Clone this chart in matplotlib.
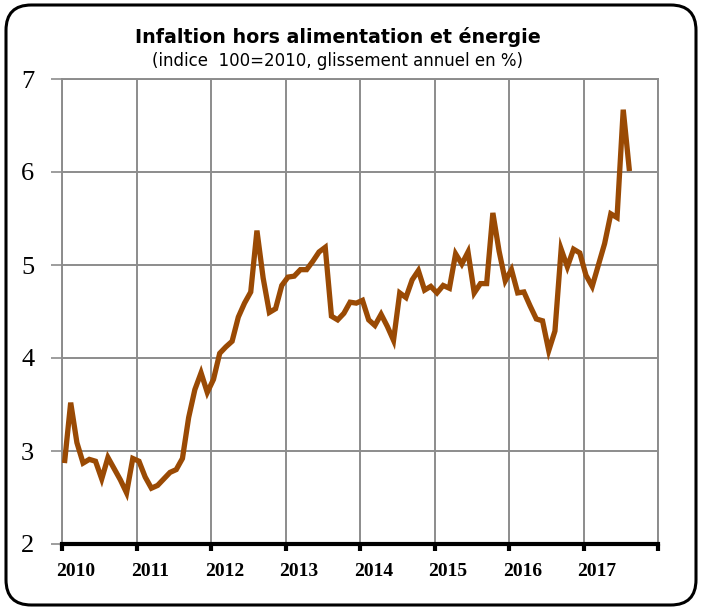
import numpy as np
import matplotlib
matplotlib.use("Agg")
import matplotlib.pyplot as plt
from matplotlib.patches import FancyBboxPatch

# glissement annuel mensuel, janvier 2010 -> aout 2017
inflation = [
    2.87, 3.52, 3.09, 2.87, 2.91, 2.89, 2.70, 2.93, 2.81, 2.69, 2.55, 2.92,
    2.89, 2.72, 2.60, 2.63, 2.70, 2.77, 2.80, 2.92, 3.36, 3.66, 3.84, 3.63,
    3.77, 4.05, 4.12, 4.18, 4.44, 4.59, 4.71, 5.37, 4.86, 4.49, 4.53, 4.78,
    4.87, 4.88, 4.95, 4.95, 5.04, 5.14, 5.19, 4.45, 4.41, 4.48, 4.60, 4.59,
    4.62, 4.41, 4.35, 4.47, 4.34, 4.19, 4.70, 4.65, 4.84, 4.94, 4.73, 4.77,
    4.70, 4.78, 4.75, 5.12, 5.01, 5.14, 4.70, 4.80, 4.80, 5.56, 5.15, 4.83,
    4.95, 4.70, 4.71, 4.56, 4.42, 4.40, 4.08, 4.29, 5.17, 4.98, 5.17, 5.13,
    4.89, 4.77, 5.00, 5.23, 5.55, 5.51, 6.67, 6.01,
]
start_year = 2010
years = list(range(2010, 2018))
yticks = [2, 3, 4, 5, 6, 7]

title = "Infaltion hors alimentation et énergie"
subtitle = "(indice  100=2010, glissement annuel en %)"

# points placed a little inside each month
dates = start_year + (np.arange(len(inflation)) + 0.4) / 12.0

fig = plt.figure(figsize=(7.02, 6.09), dpi=100)
ax = fig.add_axes([62 / 702, 1 - 544 / 609, 596 / 702, 465 / 609])

grid_col = "#8c8c8c"
ax.set_xlim(2010, 2018)
ax.set_ylim(2, 7)
ax.set_xticks(years + [2018])
ax.set_xticklabels([])
ax.set_xticks([y + 0.18 for y in years], minor=True)
ax.set_xticklabels([str(y) for y in years], minor=True)
ax.set_yticks(yticks)
ax.set_yticklabels([str(v) for v in yticks])

ax.grid(True, which="major", color=grid_col, linewidth=1.4)
ax.set_axisbelow(True)

for side in ["left", "top", "right"]:
    ax.spines[side].set_color(grid_col)
    ax.spines[side].set_linewidth(1.4)
ax.spines["bottom"].set_color("black")
ax.spines["bottom"].set_linewidth(3)
ax.spines["bottom"].set_zorder(5)

ax.tick_params(axis="x", which="major", direction="out", length=5, width=3, color="black")
ax.tick_params(axis="x", which="minor", length=0, pad=14)
ax.tick_params(axis="y", direction="out", length=8, width=1.2, color=grid_col, pad=12)

for lab in ax.get_xticklabels(minor=True):
    lab.set_fontfamily("Liberation Serif")
    lab.set_fontweight("bold")
    lab.set_fontsize(14)
for lab in ax.get_yticklabels():
    lab.set_fontfamily("Liberation Serif")
    lab.set_fontsize(19)

ax.plot(dates, inflation, color="#9a4a04", linewidth=3.8, solid_joinstyle="miter",
        solid_capstyle="butt", zorder=4)

fig.text(0.481, 1 - 37 / 609, title, ha="center", va="center",
         fontsize=13.7, fontweight="bold", family="DejaVu Sans")
fig.text(0.481, 1 - 61 / 609, subtitle, ha="center", va="center",
         fontsize=12, family="DejaVu Sans")

frame = FancyBboxPatch((6 / 702, 4 / 609), 690 / 702, 600 / 609,
                       boxstyle="round,pad=0,rounding_size=0.036",
                       transform=fig.transFigure, facecolor="none",
                       edgecolor="black", linewidth=2.2, mutation_aspect=702 / 609)
fig.patches.append(frame)

fig.savefig("out.png", dpi=100)
